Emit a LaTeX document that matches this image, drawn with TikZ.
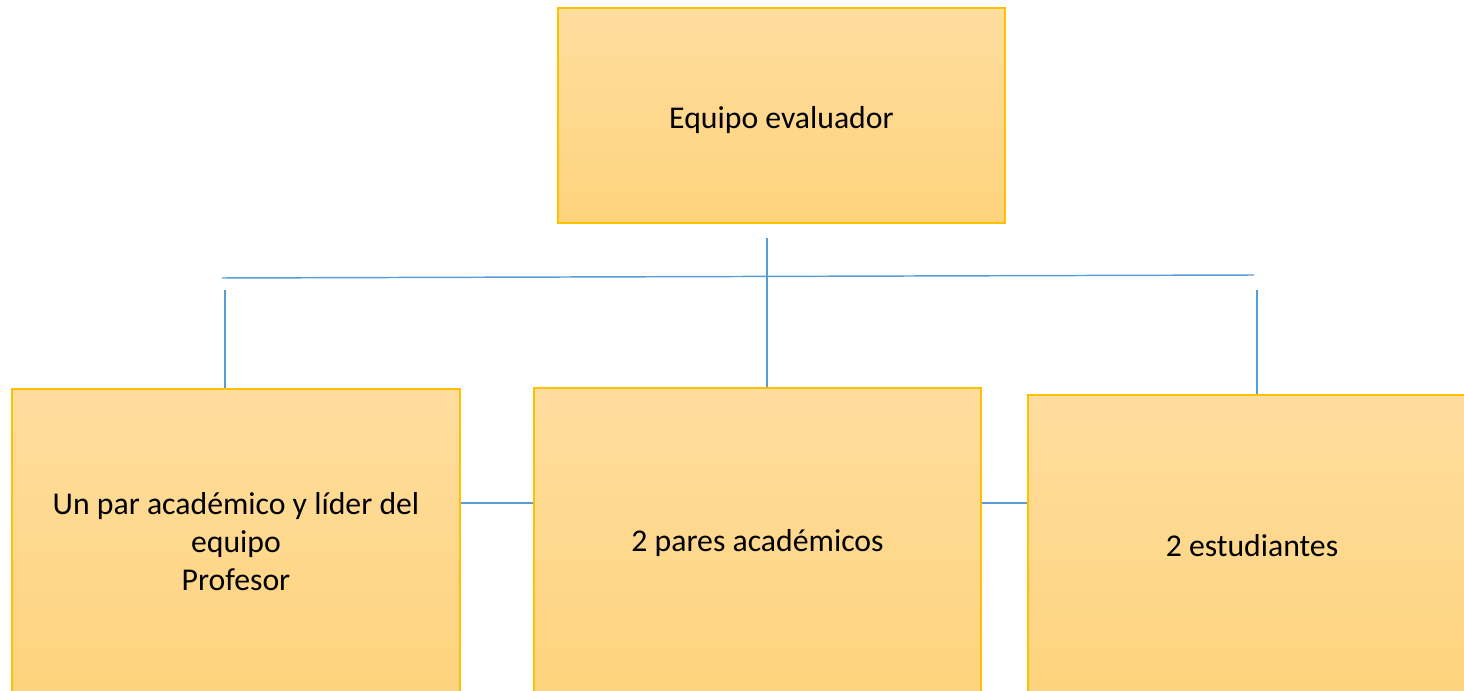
\documentclass[tikz,border=0pt]{standalone}
\usepackage{fontspec}
\setmainfont{Carlito}
\definecolor{boxline}{HTML}{FFC000}
\definecolor{boxtop}{HTML}{FEDD9E}
\definecolor{boxbottom}{HTML}{FED37D}
\definecolor{linkblue}{HTML}{5B9BD5}
\tikzset{
  rolebox/.style={draw=boxline, line width=1.3pt, top color=boxtop, bottom color=boxbottom,
    align=center, font=\fontsize{23.8}{28.5}\selectfont, inner sep=0pt},
  link/.style={draw=linkblue, line width=1.1pt}
}
\begin{document}
\begin{tikzpicture}[x=0.75pt, y=-0.75pt]
	\useasboundingbox (0,0) rectangle (1464,691);
	
	% boxes
	\node[rolebox, minimum width=335.25pt, minimum height=161.25pt] (team) at (781.5,115.5) {\raisebox{-3.75pt}[\height][\depth]{Equipo evaluador}};
	\node[rolebox, minimum width=336pt, minimum height=229.5pt] (leader) at (236,542) {Un par académico y líder del\\equipo\\Profesor};
	\node[rolebox, minimum width=335.25pt, minimum height=232.5pt] (peers) at (757.5,543) {2 pares académicos};
	\node[rolebox, minimum width=336pt, minimum height=226.5pt] (students) at (1252,546) {2 estudiantes};
	
	% branches
	\coordinate (drop) at (767,238);
	\coordinate (barleft) at (222,278);
	\coordinate (barright) at (1254,275);
	\coordinate (leftdrop) at (225,290);
	\coordinate (rightdrop) at (1257,290);
	\coordinate (side) at (0,503);
	\draw[link] (drop) -- (drop |- peers.north);
	\draw[link] (barleft) -- (barright);
	\draw[link] (leftdrop) -- (leftdrop |- leader.north);
	\draw[link] (rightdrop) -- (rightdrop |- students.north);
	
	% side links
	\draw[link] (leader.east |- side) -- (peers.west |- side);
	\draw[link] (peers.east |- side) -- (students.west |- side);
\end{tikzpicture}
\end{document}
